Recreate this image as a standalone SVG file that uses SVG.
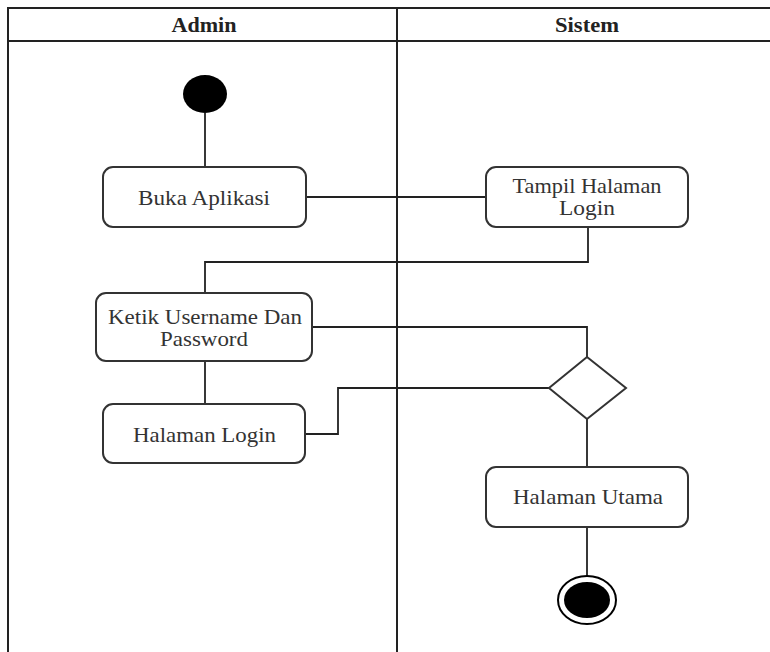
<svg xmlns="http://www.w3.org/2000/svg" width="770" height="652" viewBox="0 0 770 652">
  <style>
    .lane { fill: none; stroke: #222; stroke-width: 2; }
    .act { fill: #fff; stroke: #333; stroke-width: 2; }
    .flow { fill: none; stroke: #222; stroke-width: 1.8; }
    .lbl { font-family: "Liberation Serif", "Times New Roman", serif; font-size: 21px; fill: #333; text-anchor: middle; }
    .hdr { font-family: "Liberation Serif", "Times New Roman", serif; font-size: 20px; font-weight: bold; fill: #222; text-anchor: middle; }
  </style>
  <rect width="770" height="652" fill="#fff"/>

  <!-- swimlanes -->
  <g id="lanes">
    <path class="lane" d="M8,652 V8 H772 M8,41 H772 M397,8 V652"/>
    <text class="hdr" x="204" y="32" textLength="65" lengthAdjust="spacingAndGlyphs">Admin</text>
    <text class="hdr" x="587" y="32" textLength="64" lengthAdjust="spacingAndGlyphs">Sistem</text>
  </g>

  <!-- connectors -->
  <g id="connectors">
    <path class="flow" d="M205,113 V167"/>
    <path class="flow" d="M306,197 H486"/>
    <path class="flow" d="M588,227 V262 H205 V293"/>
    <path class="flow" d="M312,327 H587 V357"/>
    <path class="flow" d="M549,388 H338 V434 H305"/>
    <path class="flow" d="M205,361 V404"/>
    <path class="flow" d="M587,419 V467"/>
    <path class="flow" d="M587,527 V576"/>
  </g>

  <g id="start">
    <ellipse cx="205" cy="94" rx="22" ry="19" fill="#000"/>
  </g>

  <g id="buka-aplikasi">
    <rect class="act" x="103" y="167" width="203" height="60" rx="10"/>
    <text class="lbl" x="204" y="205" textLength="132" lengthAdjust="spacingAndGlyphs">Buka Aplikasi</text>
  </g>

  <g id="tampil-halaman-login">
    <rect class="act" x="486" y="167" width="202" height="60" rx="10"/>
    <text class="lbl" x="587" y="193" textLength="149" lengthAdjust="spacingAndGlyphs">Tampil Halaman</text>
    <text class="lbl" x="587" y="215" textLength="56" lengthAdjust="spacingAndGlyphs">Login</text>
  </g>

  <g id="ketik-username">
    <rect class="act" x="96" y="293" width="216" height="68" rx="10"/>
    <text class="lbl" x="205" y="324" textLength="194" lengthAdjust="spacingAndGlyphs">Ketik Username Dan</text>
    <text class="lbl" x="204" y="346" textLength="88" lengthAdjust="spacingAndGlyphs">Password</text>
  </g>

  <g id="halaman-login">
    <rect class="act" x="103" y="404" width="202" height="59" rx="10"/>
    <text class="lbl" x="204.5" y="442" textLength="143" lengthAdjust="spacingAndGlyphs">Halaman Login</text>
  </g>

  <g id="decision">
    <polygon class="act" points="587,357 626,388 587,419 549,388"/>
  </g>

  <g id="halaman-utama">
    <rect class="act" x="486" y="467" width="202" height="60" rx="10"/>
    <text class="lbl" x="588" y="504" textLength="150" lengthAdjust="spacingAndGlyphs">Halaman Utama</text>
  </g>

  <g id="end">
    <ellipse cx="587" cy="600" rx="29" ry="24" fill="#fff" stroke="#000" stroke-width="2"/>
    <ellipse cx="587" cy="600" rx="23" ry="18" fill="#000"/>
  </g>
</svg>
